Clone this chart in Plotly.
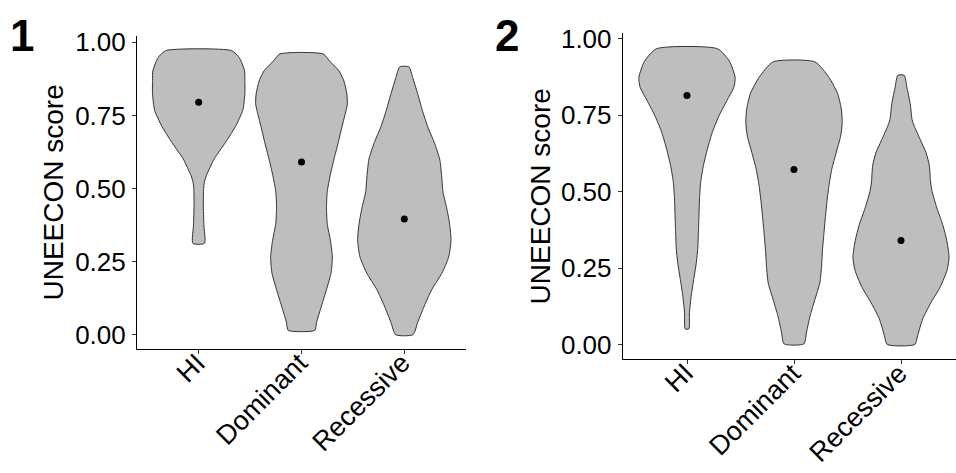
import plotly.graph_objects as go

# ---- data -------------------------------------------------------------
categories = ["HI", "Dominant", "Recessive"]
y_ticks = [0.0, 0.25, 0.5, 0.75, 1.0]
y_tick_text = ["0.00", "0.25", "0.50", "0.75", "1.00"]
axis_title = "UNEECON score"
panel_tags = ["1", "2"]

# violin density profiles: score levels and half-widths (category units)
p1_hi_y = [0.313, 0.378, 0.445, 0.501, 0.522, 0.545, 0.601, 0.657, 0.712, 0.768, 0.824, 0.870, 0.902, 0.935, 0.952, 0.972]
p1_hi_w = [0.056, 0.050, 0.045, 0.048, 0.055, 0.075, 0.150, 0.259, 0.357, 0.429, 0.449, 0.449, 0.446, 0.413, 0.386, 0.316]

p1_dom_y = [0.016, 0.043, 0.099, 0.155, 0.211, 0.266, 0.322, 0.378, 0.434, 0.489, 0.545, 0.601, 0.657, 0.712, 0.768, 0.790, 0.824, 0.868, 0.902, 0.935, 0.960]
p1_dom_w = [0.130, 0.146, 0.194, 0.243, 0.287, 0.300, 0.282, 0.251, 0.243, 0.250, 0.279, 0.316, 0.357, 0.394, 0.434, 0.446, 0.441, 0.412, 0.365, 0.276, 0.211]

p1_rec_y = [0.001, 0.043, 0.099, 0.155, 0.211, 0.266, 0.322, 0.378, 0.434, 0.489, 0.545, 0.601, 0.657, 0.712, 0.768, 0.824, 0.880, 0.916]
p1_rec_w = [0.084, 0.130, 0.194, 0.267, 0.365, 0.431, 0.454, 0.441, 0.412, 0.376, 0.363, 0.344, 0.292, 0.227, 0.175, 0.130, 0.081, 0.045]

p2_hi_y = [0.051, 0.105, 0.158, 0.212, 0.265, 0.318, 0.372, 0.425, 0.479, 0.532, 0.585, 0.639, 0.692, 0.746, 0.799, 0.842, 0.874, 0.927, 0.968]
p2_hi_w = [0.017, 0.023, 0.039, 0.062, 0.086, 0.101, 0.107, 0.112, 0.117, 0.128, 0.153, 0.190, 0.234, 0.296, 0.374, 0.438, 0.450, 0.397, 0.285]

p2_dom_y = [0.002, 0.041, 0.094, 0.147, 0.201, 0.254, 0.308, 0.361, 0.415, 0.468, 0.521, 0.575, 0.628, 0.682, 0.724, 0.767, 0.821, 0.874, 0.925]
p2_dom_w = [0.093, 0.117, 0.151, 0.195, 0.241, 0.257, 0.266, 0.279, 0.293, 0.308, 0.327, 0.354, 0.394, 0.436, 0.450, 0.444, 0.408, 0.327, 0.196]

p2_rec_y = [0.000, 0.030, 0.083, 0.137, 0.190, 0.244, 0.286, 0.340, 0.393, 0.447, 0.500, 0.532, 0.585, 0.628, 0.671, 0.714, 0.735, 0.788, 0.842, 0.881]
p2_rec_w = [0.129, 0.156, 0.202, 0.280, 0.369, 0.431, 0.449, 0.428, 0.389, 0.335, 0.291, 0.276, 0.265, 0.234, 0.179, 0.125, 0.104, 0.086, 0.055, 0.030]

# central summary point of each group
p1_points = [0.795, 0.591, 0.396]
p2_points = [0.815, 0.573, 0.340]

# ---- styling ------------------------------------------------------------
FONT = "Liberation Sans, Arial, Helvetica, sans-serif"
FILL = "#BEBEBE"
EDGE = "#333333"

fig = go.Figure()


def add_violin(pos, ys, ws, xref, yref):
    xs = [pos + w for w in ws] + [pos - w for w in reversed(ws)]
    yy = list(ys) + list(reversed(ys))
    xs.append(xs[0])
    yy.append(yy[0])
    fig.add_trace(go.Scatter(
        x=xs, y=yy, mode="lines", fill="toself", fillcolor=FILL,
        line=dict(color=EDGE, width=1, shape="spline", smoothing=0.6),
        hoverinfo="skip", showlegend=False, xaxis=xref, yaxis=yref))


panels = [
    ("x", "y", [(p1_hi_y, p1_hi_w), (p1_dom_y, p1_dom_w), (p1_rec_y, p1_rec_w)], p1_points),
    ("x2", "y2", [(p2_hi_y, p2_hi_w), (p2_dom_y, p2_dom_w), (p2_rec_y, p2_rec_w)], p2_points),
]
positions = [1, 2, 3]

for xref, yref, profiles, pts in panels:
    for pos, (ys, ws) in zip(positions, profiles):
        add_violin(pos, ys, ws, xref, yref)
    fig.add_trace(go.Scatter(
        x=positions, y=pts, mode="markers",
        marker=dict(color="black", size=7),
        hoverinfo="skip", showlegend=False, xaxis=xref, yaxis=yref))
    # slanted category labels hanging from each tick (top-right corner at the tick)
    for pos, name in zip(positions, categories):
        fig.add_annotation(x=pos, y=0, xref=xref, yref=f"{yref} domain",
                           text=name, textangle=-45, showarrow=False,
                           xanchor="right", yanchor="top", xshift=15, yshift=4,
                           font=dict(family=FONT, size=27, color="black"))

axis_common = dict(
    showgrid=False, zeroline=False, showline=True, linecolor="black", linewidth=1.1,
    ticks="outside", ticklen=4, tickwidth=1, tickcolor="#333333",
)
ytick_font = dict(family=FONT, size=26, color="black")

fig.update_layout(
    width=956, height=473,
    margin=dict(l=0, r=0, t=0, b=0),
    paper_bgcolor="white", plot_bgcolor="white",
    xaxis=dict(domain=[137 / 956, 466 / 956], range=[0.4, 3.6], anchor="y",
               tickvals=positions, showticklabels=False, **axis_common),
    yaxis=dict(domain=[1 - 347 / 473, 1 - 28 / 473], range=[-0.0468, 1.0201], anchor="x",
               tickvals=y_ticks, ticktext=y_tick_text, tickfont=ytick_font,
               ticklabelstandoff=1, **axis_common),
    xaxis2=dict(domain=[622.8 / 956, 1.0], range=[0.4, 3.514], anchor="y2",
                tickvals=positions, showticklabels=False, **axis_common),
    yaxis2=dict(domain=[1 - 358 / 473, 1 - 25 / 473], range=[-0.049, 1.018], anchor="x2",
                tickvals=y_ticks, ticktext=y_tick_text, tickfont=ytick_font,
                ticklabelstandoff=1, **axis_common),
)

# axis titles
for xc, yc in [(54, 187.5), (540, 191.5)]:
    fig.add_annotation(x=xc / 956, y=1 - yc / 473, xref="paper", yref="paper",
                       text=axis_title, textangle=-90, showarrow=False,
                       xanchor="center", yanchor="middle",
                       font=dict(family=FONT, size=28, color="black"))

# panel tags
for tag, xl in zip(panel_tags, [8, 493]):
    fig.add_annotation(x=xl / 956, y=1 - 27 / 473, xref="paper", yref="paper",
                       text=f"<b>{tag}</b>", showarrow=False,
                       xanchor="left", yanchor="middle",
                       font=dict(family=FONT, size=44, color="black"))

fig.write_html("out.html")
